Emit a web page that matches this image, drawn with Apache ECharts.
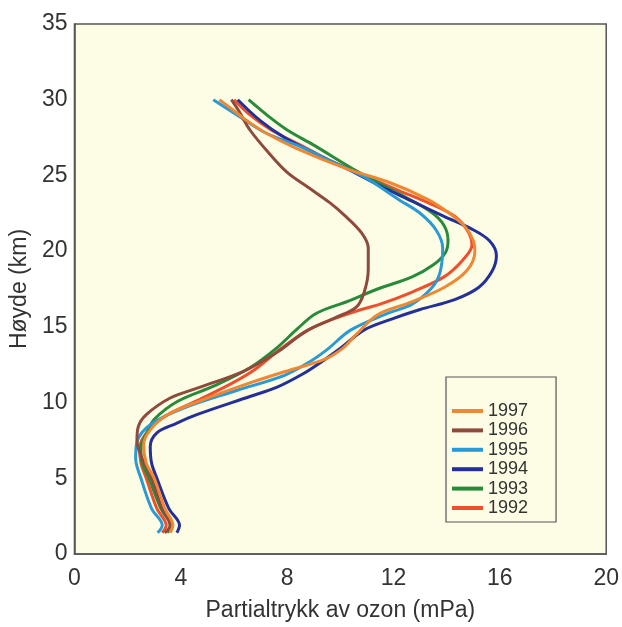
<!DOCTYPE html>
<html><head><meta charset="utf-8">
<script src="https://cdn.jsdelivr.net/npm/echarts@6/dist/echarts.min.js"></script>
<style>html,body{margin:0;padding:0;background:#fff}#c{width:622px;height:627px}</style>
</head><body><div id="c"></div>
<script>
var xTicks = [0, 4, 8, 12, 16, 20];
var yTicks = [0, 5, 10, 15, 20, 25, 30, 35];
var years = ['1997', '1996', '1995', '1994', '1993', '1992'];
var colors = ['#f08833', '#8e4a3c', '#2a9ad6', '#24309a', '#2a8a3c', '#ee4f2c'];

// [partial pressure mPa, altitude km]
var s1997 = [[3.6,1.4],[3.7,1.9],[3.4,3],[3.0,5],[2.7,6],[2.6,7.2],[2.85,8.2],[3.5,9.2],[4.7,10.1],[6.6,11.3],[8.2,12.2],[9.4,12.85],[10.1,13.6],[10.6,14.5],[11.4,15.8],[12.6,16.6],[13.9,17.6],[14.75,18.7],[15.06,20],[15.0,20.7],[14.7,21.6],[14.1,22.5],[13.3,23.4],[11.9,24.5],[10.3,25.4],[8.45,26.7],[7.2,27.8],[6.5,28.6],[5.9,29.4],[5.45,30]];
var s1996 = [[3.4,1.4],[3.6,1.9],[3.3,3],[2.9,5],[2.5,6.5],[2.35,7.5],[2.4,8.4],[2.7,9.2],[3.6,10.3],[4.7,11.0],[6.4,12.1],[7.6,13.3],[8.7,14.7],[9.8,15.6],[10.6,16.3],[10.9,17.3],[11.05,18.8],[11.05,20.2],[10.8,21.2],[10.2,22.3],[9.6,23.2],[8.8,24.2],[8.0,25.2],[7.3,26.5],[6.6,28],[6.2,29.2],[5.9,30]];
var s1995 = [[3.13,1.4],[3.3,1.9],[2.9,3],[2.5,5],[2.3,6.3],[2.35,7.4],[2.9,8.6],[4.2,9.7],[6.1,10.8],[7.9,11.8],[8.85,12.7],[9.5,13.5],[10.4,14.8],[11.8,15.9],[12.7,16.5],[13.45,17.6],[13.75,18.6],[13.85,20.2],[13.6,21.4],[13.0,22.5],[12.2,23.4],[10.9,24.9],[9.7,25.9],[8.5,26.9],[7.2,27.8],[6.2,28.9],[5.22,30]];
var s1994 = [[3.85,1.4],[3.95,1.9],[3.55,3],[3.1,5],[2.9,6],[2.85,7.1],[3.1,8.0],[3.8,8.6],[4.6,9.2],[6.6,10.4],[7.6,11.0],[8.6,11.9],[9.3,12.7],[9.94,13.5],[10.9,14.8],[11.9,15.5],[13.0,16.15],[14.3,16.8],[15.2,17.6],[15.7,18.65],[15.87,19.7],[15.6,20.7],[14.9,21.5],[13.9,22.3],[12.7,23.3],[11.5,24.3],[10.3,25.4],[9.1,26.4],[7.9,27.5],[7.0,28.6],[6.14,30]];
var s1993 = [[3.5,1.4],[3.6,1.9],[3.25,3],[2.8,5],[2.55,6],[2.5,7],[2.75,8.1],[3.0,8.9],[3.9,10.1],[5.25,11.1],[6.6,12.3],[7.6,13.6],[8.4,14.9],[9.1,15.9],[10.3,16.7],[11.4,17.5],[12.7,18.3],[13.5,19.1],[13.95,19.9],[14.05,20.7],[13.9,21.7],[13.4,22.6],[12.2,23.8],[10.6,25.3],[9.0,27.0],[8.0,28.0],[7.3,28.9],[6.55,30]];
var s1992 = [[3.3,1.4],[3.45,1.9],[3.1,3],[2.7,5],[2.5,6],[2.45,7],[2.8,8.2],[3.5,9.2],[4.7,10.2],[5.95,11.3],[6.8,12.2],[7.8,13.6],[8.8,14.8],[9.7,15.5],[10.7,16.1],[11.5,16.5],[12.7,17.3],[13.9,18.3],[14.6,19.4],[14.95,20.4],[14.8,21.3],[14.3,22.3],[13.3,23.2],[12.2,24.0],[11.0,24.9],[9.6,26.0],[8.5,27.0],[7.4,28.0],[6.6,29],[6.0,30]];
var seriesData = [s1997, s1996, s1995, s1994, s1993, s1992];

var chart = echarts.init(document.getElementById('c'));
var font = 'Liberation Sans, Arial, sans-serif';
chart.setOption({
  animation: false,
  backgroundColor: '#ffffff',
  color: colors,
  grid: {left: 74, top: 24, right: 14, bottom: 72, show: true, backgroundColor: '#fdfce4', borderColor: '#555', borderWidth: 1.5},
  xAxis: {
    type: 'value', min: xTicks[0], max: xTicks[xTicks.length - 1], interval: 4,
    name: 'Partialtrykk av ozon (mPa)', nameLocation: 'middle', nameGap: 45,
    nameTextStyle: {fontSize: 23, color: '#333', fontFamily: font},
    axisLine: {show: true, lineStyle: {color: '#555', width: 1.5}},
    axisTick: {show: false}, splitLine: {show: false},
    axisLabel: {fontSize: 23, color: '#333', margin: 13, fontFamily: font}
  },
  yAxis: {
    type: 'value', min: yTicks[0], max: yTicks[yTicks.length - 1], interval: 5,
    name: 'Høyde (km)', nameLocation: 'middle', nameGap: 40,
    nameTextStyle: {fontSize: 23, color: '#333', fontFamily: font},
    axisLine: {show: true, lineStyle: {color: '#555', width: 1.5}},
    axisTick: {show: false}, splitLine: {show: false},
    axisLabel: {fontSize: 23, color: '#333', margin: 7, fontFamily: font}
  },
  legend: {
    orient: 'vertical', left: 446, top: 377,
    padding: [25, 28, 5, 6],
    backgroundColor: '#fdfce4', borderColor: '#555', borderWidth: 1.2,
    icon: 'rect', itemWidth: 31, itemHeight: 4, itemGap: 1.4,
    textStyle: {fontSize: 18, color: '#333', lineHeight: 17, fontFamily: font},
    data: years
  },
  series: years.map(function (y, i) {
    return {
      name: y, type: 'line', data: seriesData[i], smooth: 0.35,
      showSymbol: false, symbol: 'none',
      lineStyle: {width: 3, color: colors[i]}, z: 6 - i
    };
  })
});
</script></body></html>
